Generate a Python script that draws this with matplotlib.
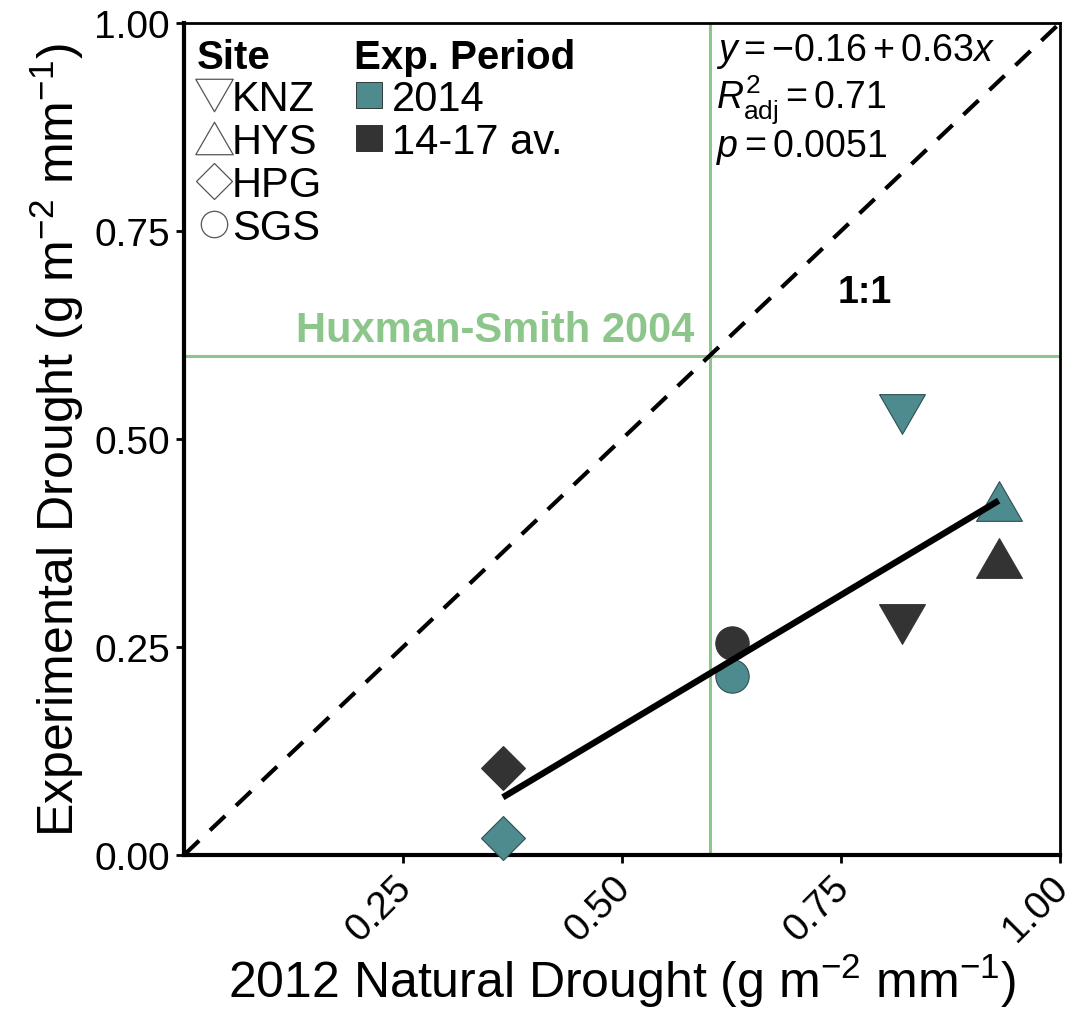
import numpy as np
import matplotlib
matplotlib.use("Agg")
import matplotlib.pyplot as plt
from matplotlib.lines import Line2D

plt.rcParams['font.family'] = ['Liberation Sans', 'DejaVu Sans']
plt.rcParams['mathtext.fontset'] = 'custom'
plt.rcParams['mathtext.rm'] = 'Liberation Sans'
plt.rcParams['mathtext.it'] = 'Liberation Sans:italic'
plt.rcParams['mathtext.bf'] = 'Liberation Sans:bold'

# Site data.
sites = ['KNZ', 'HYS', 'HPG', 'SGS']
natural_2012 = [0.82, 0.93, 0.364, 0.625]
exp_2014 = [0.53, 0.425, 0.02, 0.215]
exp_1417 = [0.278, 0.357, 0.105, 0.255]

periods = ['2014', '14-17 av.']
period_colors = ['#4d8b8f', '#333333']

# Regression fit (as printed on the chart).
fit_intercept, fit_slope = -0.16, 0.63
fit_r2, fit_p = 0.71, 0.0051

# Huxman-Smith 2004 threshold.
hs_threshold = 0.6

green = '#8cc68a'

# Wide triangles like ggplot's shapes.
tri_down = [(-1, 0.866), (1, 0.866), (0, -0.866), (-1, 0.866)]
tri_up = [(-1, -0.866), (1, -0.866), (0, 0.866), (-1, -0.866)]
site_markers = [tri_down, tri_up, 'D', 'o']
point_sizes = [33, 33, 22, 24]
legend_sizes = [27, 27, 18, 19]

fig = plt.figure(figsize=(10.8, 10.2), dpi=100)
ax = fig.add_axes([184 / 1080, 1 - 856 / 1020, 876 / 1080, 832 / 1020])

ax.set_xlim(0, 1)
ax.set_ylim(0, 1)

# Threshold lines.
ax.axvline(hs_threshold, color=green, lw=2.2, zorder=1)
ax.axhline(hs_threshold, color=green, lw=2.2, zorder=1)
ax.text(0.583, 0.618, 'Huxman-Smith 2004', color=green, fontsize=30,
        fontweight='bold', ha='right', va='baseline')

# 1:1 line.
ax.plot([0, 1], [0, 1], color='black', lw=3, dashes=(5, 3.6), zorder=2)
ax.text(0.777, 0.677, '1:1', fontsize=27, fontweight='bold',
        ha='center', va='center')

# Regression line over the range of sites.
xfit = np.array([min(natural_2012), max(natural_2012)])
ax.plot(xfit, fit_intercept + fit_slope * xfit, color='black', lw=4.6,
        solid_capstyle='butt', zorder=4)

for i, site in enumerate(sites):
    m = site_markers[i]
    ax.plot(natural_2012[i], exp_1417[i], marker=m, ls='', ms=point_sizes[i],
            mfc=period_colors[1], mec=period_colors[1], mew=0.8, zorder=3,
            clip_on=False)
    ax.plot(natural_2012[i], exp_2014[i], marker=m, ls='', ms=point_sizes[i],
            mfc=period_colors[0], mec='#2f4f52', mew=0.8, zorder=3,
            clip_on=False)

# Fit statistics.
ax.text(0.607, 0.956, r'$y = -0.16 + 0.63x$', fontsize=27, va='baseline')
ax.text(0.607, 0.898, r'$R^2_{\mathrm{adj}} = %.2f$' % fit_r2, fontsize=27,
        va='baseline')
ax.text(0.607, 0.840, r'$p = %.4f$' % fit_p, fontsize=27, va='baseline')

# Legends.
site_handles = [Line2D([], [], marker=site_markers[i], ls='', mfc='none',
                       mec='#555555', mew=0.9, ms=legend_sizes[i])
                for i in range(len(sites))]
leg1 = ax.legend(site_handles, sites, title='Site', loc='upper left',
                 bbox_to_anchor=(0.0, 0.997), frameon=False, fontsize=30,
                 title_fontproperties={'weight': 'bold', 'size': 29},
                 alignment='left', handlelength=0.85, handletextpad=0.0,
                 labelspacing=0.07, borderaxespad=0.1, borderpad=0.2)
ax.add_artist(leg1)

period_handles = [Line2D([], [], marker='s', ls='', mfc=c, mec='#222222',
                         mew=0.6, ms=19) for c in period_colors]
ax.legend(period_handles, periods, title='Exp. Period', loc='upper left',
          bbox_to_anchor=(0.18, 0.997), frameon=False, fontsize=30,
          title_fontproperties={'weight': 'bold', 'size': 29},
          alignment='left', handlelength=0.7, handletextpad=0.2,
          labelspacing=0.07, borderaxespad=0.1, borderpad=0.2)

# Axes styling.
for side in ['left', 'bottom']:
    ax.spines[side].set_linewidth(3)
for side in ['top', 'right']:
    ax.spines[side].set_linewidth(2)

ax.set_yticks([0, 0.25, 0.5, 0.75, 1.0])
ax.set_yticklabels(['0.00', '0.25', '0.50', '0.75', '1.00'])
ax.set_xticks([0.25, 0.5, 0.75, 1.0])
ax.set_xticklabels(['0.25', '0.50', '0.75', '1.00'], rotation=45,
                   ha='right', va='center_baseline', rotation_mode='anchor')
ax.tick_params(axis='both', labelsize=28, width=2, length=6)
ax.tick_params(axis='y', pad=4)
ax.tick_params(axis='x', pad=11)

ax.set_xlabel(r'2012 Natural Drought (g m$^{-2}$ mm$^{-1}$)', fontsize=36,
              labelpad=2)
ax.set_ylabel(r'Experimental Drought (g m$^{-2}$ mm$^{-1}$)', fontsize=36,
              labelpad=6)

fig.savefig('out.png', dpi=100)
